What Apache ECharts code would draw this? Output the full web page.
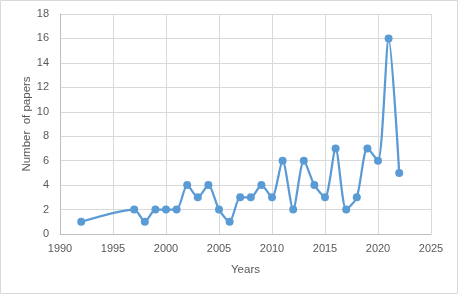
<!DOCTYPE html>
<html><head><meta charset="utf-8">
<style>html,body{margin:0;padding:0;background:#fff}#c{width:458px;height:294px}</style>
<script src="https://cdn.jsdelivr.net/npm/echarts@6/dist/echarts.min.js"></script>
</head><body><div id="c"></div>
<script>
const years = [1992,1997,1998,1999,2000,2001,2002,2003,2004,2005,2006,2007,2008,2009,2010,2011,2012,2013,2014,2015,2016,2017,2018,2019,2020,2021,2022];
const papers = [1,2,1,2,2,2,4,3,4,2,1,3,3,4,3,6,2,6,4,3,7,2,3,7,6,16,5];
const xTicks = [1990,1995,2000,2005,2010,2015,2020,2025];
const yTicks = [0,2,4,6,8,10,12,14,16,18];

const chart = echarts.init(document.getElementById('c'));
const font = 'Liberation Sans, Arial, sans-serif';
chart.setOption({
  animation: false,
  graphic: [{type:'rect', shape:{x:0.5,y:0.5,width:457,height:293}, style:{fill:'none', stroke:'#D9D9D9', lineWidth:1}}],
  grid: {left:60, right:27, top:14, bottom:60},
  xAxis: {
    type:'value', min:xTicks[0], max:xTicks[xTicks.length-1], interval:5,
    name:'Years', nameLocation:'middle', nameGap:30, nameMoveOverlap:false,
    nameTextStyle:{color:'#595959', fontSize:11.5, fontFamily:font},
    axisLine:{show:true, lineStyle:{color:'#BFBFBF'}},
    axisTick:{show:false},
    axisLabel:{color:'#595959', fontSize:11, fontFamily:font, margin:9, formatter: v => String(v)},
    splitLine:{show:true, lineStyle:{color:'#D9D9D9'}}
  },
  yAxis: {
    type:'value', min:yTicks[0], max:yTicks[yTicks.length-1], interval:2,
    name:'Number  of papers', nameLocation:'middle', nameGap:27, nameMoveOverlap:false,
    nameTextStyle:{color:'#595959', fontSize:11.5, fontFamily:font},
    axisLine:{show:true, lineStyle:{color:'#BFBFBF'}},
    axisTick:{show:false},
    axisLabel:{color:'#595959', fontSize:11, fontFamily:font, margin:11},
    splitLine:{show:true, lineStyle:{color:'#D9D9D9'}}
  },
  series: [{
    type:'line', data: years.map((y,i)=>[y,papers[i]]),
    smooth:0.25, symbol:'circle', symbolSize:8,
    lineStyle:{color:'#5B9BD5', width:2.25},
    itemStyle:{color:'#5B9BD5'}
  }]
});
</script></body></html>
